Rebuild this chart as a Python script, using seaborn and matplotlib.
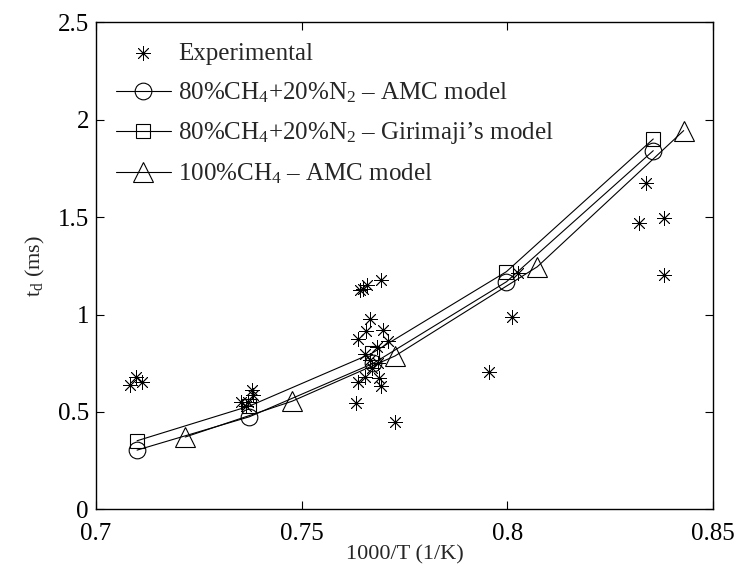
import numpy as np
import pandas as pd
import matplotlib
matplotlib.use("Agg")
import matplotlib.pyplot as plt
import seaborn as sns

# Experimental ignition delay
exp_x = [0.7084, 0.7097, 0.7112, 0.7353, 0.7364, 0.7370, 0.7379, 0.7381,
         0.7633, 0.7637, 0.7638, 0.7643, 0.7650, 0.7654, 0.7654, 0.7656, 0.7658,
         0.7667, 0.7667, 0.7670, 0.7684, 0.7686, 0.7689, 0.7692, 0.7692, 0.7697,
         0.7711, 0.7726, 0.7955, 0.8011, 0.8026, 0.8320, 0.8337, 0.8380, 0.8380]
exp_y = [0.638, 0.681, 0.655, 0.552, 0.530, 0.552, 0.612, 0.587,
         0.547, 0.873, 0.655, 1.126, 1.129, 0.796, 0.681, 0.917, 1.151,
         0.975, 0.766, 0.724, 0.832, 0.749, 0.672, 0.633, 1.177, 0.920,
         0.866, 0.450, 0.703, 0.986, 1.211, 1.471, 1.673, 1.494, 1.203]

# 80%CH4+20%N2 - AMC model
amc_x = [0.7100, 0.7373, 0.7674, 0.7998, 0.8355]
amc_y = [0.304, 0.475, 0.749, 1.168, 1.841]

# 80%CH4+20%N2 - Girimaji's model
gir_x = [0.7100, 0.7373, 0.7670, 0.7998, 0.8355]
gir_y = [0.352, 0.530, 0.800, 1.220, 1.901]

# 100%CH4 - AMC model
pure_x = [0.7217, 0.7477, 0.7727, 0.8073, 0.8429]
pure_y = [0.371, 0.555, 0.787, 1.245, 1.944]

sns.set_style("ticks")
plt.rcParams['font.family'] = ['Liberation Serif', 'DejaVu Serif']
plt.rcParams['mathtext.fontset'] = 'custom'
plt.rcParams['mathtext.rm'] = 'Liberation Serif'
plt.rcParams['mathtext.it'] = 'Liberation Serif:italic'
plt.rcParams['mathtext.default'] = 'regular'

fig = plt.figure(figsize=(7.38, 5.71), dpi=100)
ax = fig.add_axes([0.130, 0.108, 0.836, 0.853])

sns.scatterplot(x=exp_x, y=exp_y, ax=ax, marker=(8, 2, 0), s=100,
                color='k', linewidth=0.6, label='Experimental', zorder=3)
sns.lineplot(x=amc_x, y=amc_y, ax=ax, estimator=None, sort=False,
             color='k', linewidth=0.8, marker='o', markersize=12,
             markerfacecolor='none', markeredgecolor='k', markeredgewidth=0.8,
             label='80%CH$_4$+20%N$_2$ – AMC model')
sns.lineplot(x=gir_x, y=gir_y, ax=ax, estimator=None, sort=False,
             color='k', linewidth=0.8, marker='s', markersize=10,
             markerfacecolor='none', markeredgecolor='k', markeredgewidth=0.8,
             label="80%CH$_4$+20%N$_2$ – Girimaji’s model")
sns.lineplot(x=pure_x, y=pure_y, ax=ax, estimator=None, sort=False,
             color='k', linewidth=0.8, marker='^', markersize=14,
             markerfacecolor='none', markeredgecolor='k', markeredgewidth=0.8,
             label='100%CH$_4$ – AMC model')

ax.set_xlim(0.7, 0.85)
ax.set_ylim(0, 2.5)
ax.set_xticks([0.7, 0.75, 0.8, 0.85])
ax.set_xticklabels(['0.7', '0.75', '0.8', '0.85'])
ax.set_yticks([0, 0.5, 1, 1.5, 2, 2.5])
ax.set_yticklabels(['0', '0.5', '1', '1.5', '2', '2.5'])
ax.tick_params(direction='in', length=6, width=0.8, top=True, right=True,
               labelsize=18, colors='k')
ax.tick_params(axis='x', pad=10)
ax.tick_params(axis='y', pad=5)
for sp in ax.spines.values():
    sp.set_visible(True)
    sp.set_linewidth(1.0)
    sp.set_color('k')

ax.set_xlabel('1000/T (1/K)', fontsize=16, labelpad=0)
ax.set_ylabel('t$_d$ (ms)', fontsize=16, labelpad=8)

ax.legend(loc='upper left', frameon=False, fontsize=18, handlelength=2.2,
          handletextpad=0.3, labelspacing=0.62, borderaxespad=0.4,
          bbox_to_anchor=(0.0, 1.0))

fig.savefig('out.png', dpi=100)
